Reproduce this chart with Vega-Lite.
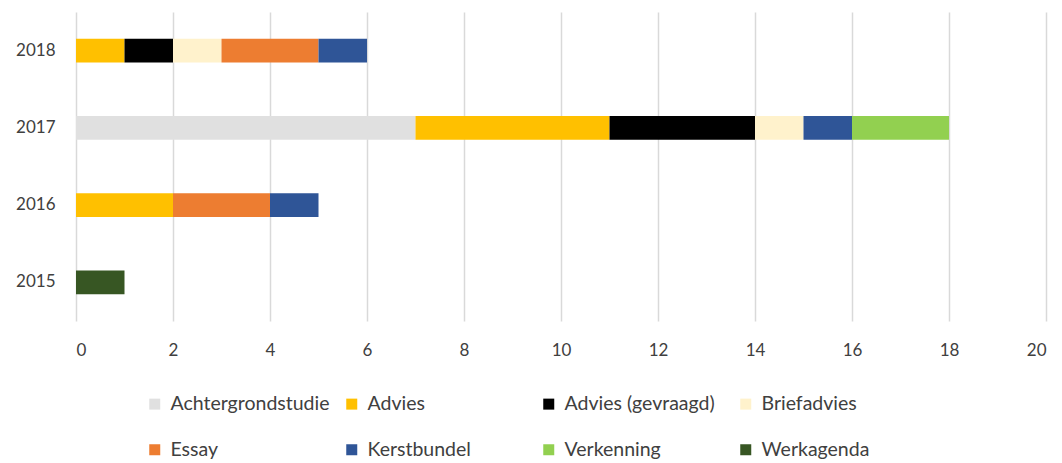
{
  "$schema": "https://vega.github.io/schema/vega-lite/v6.json",
  "width": 970,
  "height": 309,
  "autosize": {"type": "none"},
  "padding": {"left": 76, "top": 12, "right": 16, "bottom": 142},
  "background": "white",
  "config": {
    "font": "Lato",
    "view": {"stroke": null},
    "legend": {"gridAlign": "all"}
  },
  "data": {
    "values": [
      {"jaar": "2018", "type": "Advies", "aantal": 1},
      {"jaar": "2018", "type": "Advies (gevraagd)", "aantal": 1},
      {"jaar": "2018", "type": "Briefadvies", "aantal": 1},
      {"jaar": "2018", "type": "Essay", "aantal": 2},
      {"jaar": "2018", "type": "Kerstbundel", "aantal": 1},
      {"jaar": "2017", "type": "Achtergrondstudie", "aantal": 7},
      {"jaar": "2017", "type": "Advies", "aantal": 4},
      {"jaar": "2017", "type": "Advies (gevraagd)", "aantal": 3},
      {"jaar": "2017", "type": "Briefadvies", "aantal": 1},
      {"jaar": "2017", "type": "Kerstbundel", "aantal": 1},
      {"jaar": "2017", "type": "Verkenning", "aantal": 2},
      {"jaar": "2016", "type": "Advies", "aantal": 2},
      {"jaar": "2016", "type": "Essay", "aantal": 2},
      {"jaar": "2016", "type": "Kerstbundel", "aantal": 1},
      {"jaar": "2015", "type": "Werkagenda", "aantal": 1}
    ]
  },
  "mark": {"type": "bar"},
  "encoding": {
    "y": {
      "field": "jaar",
      "type": "nominal",
      "sort": ["2018", "2017", "2016", "2015"],
      "scale": {"paddingInner": 0.69, "paddingOuter": 0.345},
      "axis": {
        "title": null,
        "domain": false,
        "ticks": false,
        "labelFontSize": 17,
        "labelColor": "#404040",
        "labelPadding": 21
      }
    },
    "x": {
      "field": "aantal",
      "type": "quantitative",
      "aggregate": "sum",
      "scale": {"domain": [0, 20], "nice": false},
      "axis": {
        "title": null,
        "domain": false,
        "ticks": false,
        "values": [0, 2, 4, 6, 8, 10, 12, 14, 16, 18, 20],
        "labelFontSize": 17,
        "labelColor": "#404040",
        "labelPadding": 21,
        "gridColor": "#D9D9D9",
        "gridWidth": 1.5
      }
    },
    "color": {
      "field": "type",
      "type": "nominal",
      "scale": {
        "domain": ["Achtergrondstudie", "Advies", "Advies (gevraagd)", "Briefadvies", "Essay", "Kerstbundel", "Verkenning", "Werkagenda"],
        "range": ["#E0E0E0", "#FFC000", "#000000", "#FFF2CC", "#ED7D31", "#2F5597", "#92D050", "#375623"]
      },
      "legend": {
        "title": null,
        "orient": "none",
        "legendX": 69,
        "legendY": 382,
        "direction": "horizontal",
        "columns": 4,
        "gridAlign": "all",
        "symbolType": "square",
        "symbolSize": 121,
        "symbolStrokeWidth": 0,
        "symbolOffset": 0,
        "labelFontSize": 19.5,
        "labelColor": "#404040",
        "labelOffset": 6,
        "labelLimit": 300,
        "columnPadding": 12,
        "rowPadding": 25
      }
    },
    "order": {"field": "type", "sort": "ascending"}
  }
}
